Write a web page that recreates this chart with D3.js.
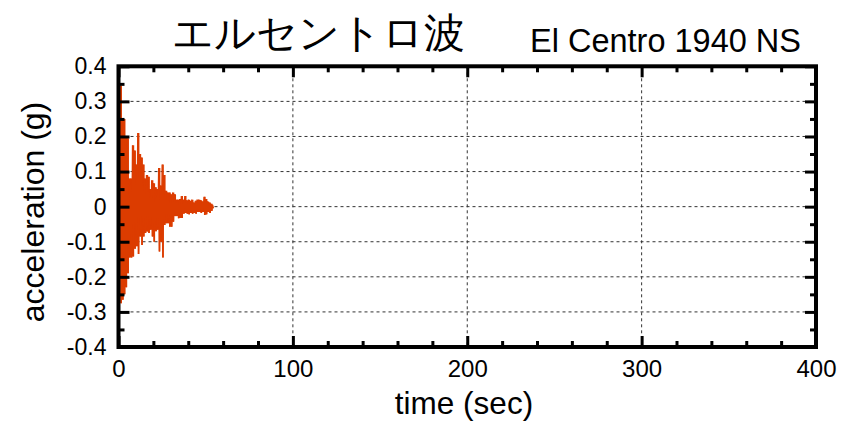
<!DOCTYPE html>
<html>
<head>
<meta charset="utf-8">
<script src="https://cdn.jsdelivr.net/npm/d3@7"></script>
<style>
  html, body { margin: 0; padding: 0; background: #fff; }
  svg { display: block; }
  text { font-family: "Liberation Sans", Arial, sans-serif; fill: #000; }
</style>
</head>
<body>
<svg id="chart" width="841" height="424"></svg>
<script>
// El Centro 1940 NS record, sampled once per second:
// the positive and negative peak acceleration (g) within each second.
const timeSec = d3.range(0, 55);
const peakPos = [0.16, 0.345, 0.25, 0.25, 0.2, 0.195, 0.08, 0.08, 0.175, 0.16,
                 0.12, 0.21, 0.15, 0.14, 0.12, 0.08, 0.09, 0.085, 0.05, 0.075,
                 0.067, 0.055, 0.05, 0.11, 0.06, 0.12, 0.09, 0.045, 0.04, 0.04,
                 0.035, 0.04, 0.035, 0.02, 0.02, 0.022, 0.03, 0.02, 0.03, 0.018,
                 0.02, 0.017, 0.02, 0.012, 0.017, 0.02, 0.02, 0.018, 0.015, 0.028,
                 0.022, 0.015, 0.012, 0.008, 0.005];
const peakNeg = [-0.15, -0.275, -0.265, -0.25, -0.23, -0.19, -0.145, -0.145, -0.142, -0.12,
                 -0.113, -0.135, -0.085, -0.109, -0.085, -0.075, -0.071, -0.075, -0.066, -0.085,
                 -0.1, -0.07, -0.066, -0.128, -0.1, -0.145, -0.052, -0.047, -0.047, -0.057,
                 -0.057, -0.043, -0.027, -0.027, -0.033, -0.032, -0.032, -0.02, -0.018, -0.02,
                 -0.022, -0.018, -0.02, -0.018, -0.02, -0.015, -0.015, -0.018, -0.015, -0.024,
                 -0.022, -0.015, -0.018, -0.012, -0.005];

const xTicks = [0, 100, 200, 300, 400];
const yTicks = [-0.4, -0.3, -0.2, -0.1, 0, 0.1, 0.2, 0.3, 0.4];
const yTickLabels = ["-0.4", "-0.3", "-0.2", "-0.1", "0", "0.1", "0.2", "0.3", "0.4"];

const titleJa = "エルセントロ波";
const titleEn = "El Centro 1940 NS";
const xTitle = "time (sec)";
const yTitle = "acceleration (g)";

const svg = d3.select("#chart");
const L = 118.5, R = 816, T = 66.3, B = 347;

const x = d3.scaleLinear().domain([0, 400]).range([L, R]);
const y = d3.scaleLinear().domain([-0.4, 0.4]).range([B, T]);

// dashed grid
const grid = svg.append("g").attr("stroke", "#333").attr("stroke-width", 1)
  .attr("stroke-dasharray", "3,3").attr("fill", "none");
grid.selectAll("line.h").data(yTicks.filter(v => Math.abs(v) < 0.39)).join("line")
  .attr("x1", L).attr("x2", R).attr("y1", d => y(d)).attr("y2", d => y(d));
grid.selectAll("line.v").data(xTicks.filter(v => v > 0 && v < 400)).join("line")
  .attr("class", "v")
  .attr("y1", T).attr("y2", B).attr("x1", d => x(d)).attr("x2", d => x(d));

// waveform: band between the positive and negative peak of each second,
// with a zigzag trace on top for the ragged edge
const wave = timeSec.map((t, i) => ({ t, hi: peakPos[i], lo: peakNeg[i] }));
svg.append("path")
  .datum(wave)
  .attr("fill", "#dc3c00")
  .attr("d", d3.area().curve(d3.curveStepAfter)
    .x(d => x(d.t)).y0(d => y(d.lo)).y1(d => y(d.hi)));
const pts = [];
wave.forEach(d => { pts.push([d.t, d.hi]); pts.push([d.t + 0.5, d.lo]); });
svg.append("path")
  .datum(pts)
  .attr("fill", "none")
  .attr("stroke", "#dc3c00")
  .attr("stroke-width", 1.2)
  .attr("d", d3.line().x(d => x(d[0])).y(d => y(d[1])));

// inward ticks on all four sides
const majorLen = 11, minorLen = 6;
const xMinor = d3.range(20, 400, 20).filter(v => v % 100 !== 0);
const yMinor = d3.range(-0.35, 0.36, 0.1).map(v => +v.toFixed(2));

function styleAxis(g) {
  g.select(".domain").remove();
  g.selectAll(".tick line").attr("stroke", "#000").attr("stroke-width", 3);
}

svg.append("g").attr("transform", `translate(0,${B})`)
  .call(d3.axisBottom(x).tickValues(xTicks).tickSize(-majorLen).tickPadding(13).tickFormat(d3.format("d")))
  .call(styleAxis)
  .call(g => g.selectAll("text").attr("font-size", 24).attr("font-family", "Liberation Sans, Arial").attr("fill", "#000"));
svg.append("g").attr("transform", `translate(0,${B})`)
  .call(d3.axisBottom(x).tickValues(xMinor).tickSize(-minorLen).tickFormat(""))
  .call(styleAxis);
svg.append("g").attr("transform", `translate(0,${T})`)
  .call(d3.axisTop(x).tickValues(xTicks).tickSize(-majorLen).tickFormat(""))
  .call(styleAxis);
svg.append("g").attr("transform", `translate(0,${T})`)
  .call(d3.axisTop(x).tickValues(xMinor).tickSize(-minorLen).tickFormat(""))
  .call(styleAxis);

svg.append("g").attr("transform", `translate(${L},0)`)
  .call(d3.axisLeft(y).tickValues(yTicks).tickSize(-majorLen).tickPadding(12)
    .tickFormat((d, i) => yTickLabels[i]))
  .call(styleAxis)
  .call(g => g.selectAll("text").attr("font-size", 23).attr("font-family", "Liberation Sans, Arial").attr("fill", "#000"));
svg.append("g").attr("transform", `translate(${L},0)`)
  .call(d3.axisLeft(y).tickValues(yMinor).tickSize(-minorLen).tickFormat(""))
  .call(styleAxis);
svg.append("g").attr("transform", `translate(${R},0)`)
  .call(d3.axisRight(y).tickValues(yTicks).tickSize(-majorLen).tickFormat(""))
  .call(styleAxis);
svg.append("g").attr("transform", `translate(${R},0)`)
  .call(d3.axisRight(y).tickValues(yMinor).tickSize(-minorLen).tickFormat(""))
  .call(styleAxis);

// frame
svg.append("rect")
  .attr("x", L).attr("y", T).attr("width", R - L).attr("height", B - T)
  .attr("fill", "none").attr("stroke", "#000").attr("stroke-width", 4);

// titles
svg.append("text")
  .attr("x", 318).attr("y", 47)
  .attr("text-anchor", "middle")
  .attr("font-family", "Noto Sans CJK JP")
  .attr("font-size", 41)
  .text(titleJa);
svg.append("text")
  .attr("x", 530).attr("y", 52)
  .attr("font-size", 32.5)
  .text(titleEn);
svg.append("text")
  .attr("x", 464).attr("y", 414)
  .attr("text-anchor", "middle")
  .attr("font-size", 31.5)
  .text(xTitle);
svg.append("text")
  .attr("transform", "translate(44,212) rotate(-90)")
  .attr("text-anchor", "middle")
  .attr("font-size", 32)
  .text(yTitle);
</script>
</body>
</html>
